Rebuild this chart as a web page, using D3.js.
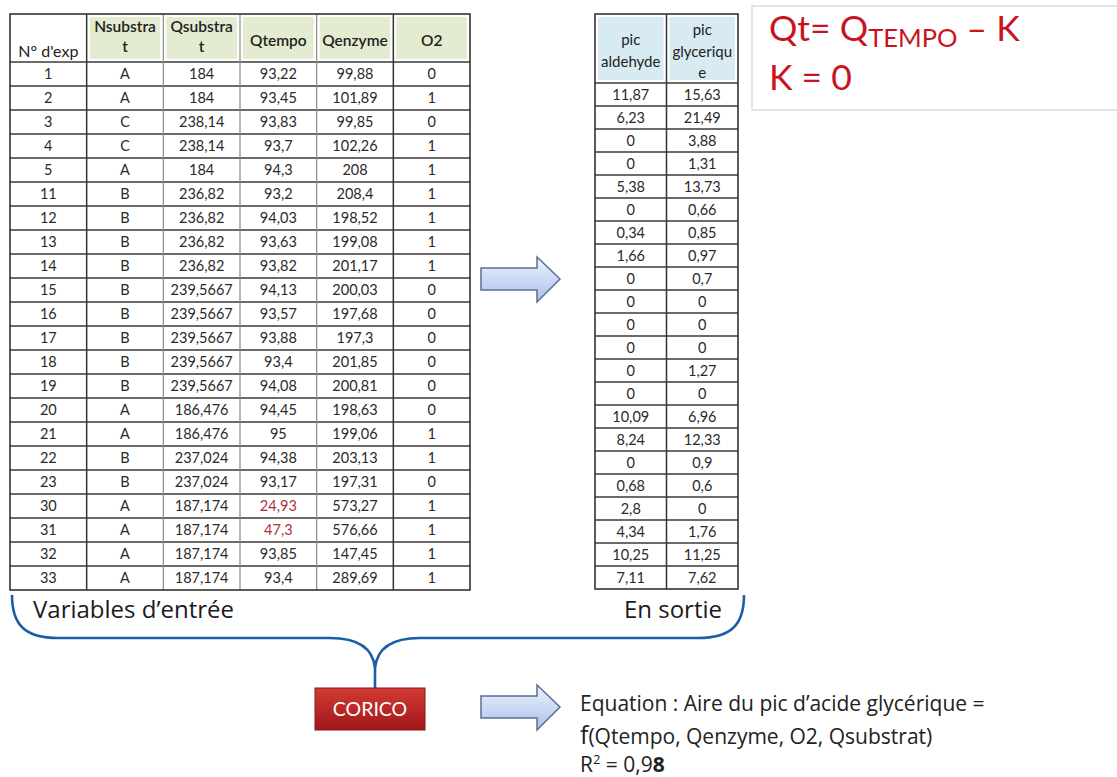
<!DOCTYPE html>
<html><head><meta charset="utf-8">
<script src="https://cdn.jsdelivr.net/npm/d3@7"></script>
<style>body{margin:0;background:#fff}svg{display:block}</style>
</head><body>
<svg id="c" width="1117" height="777"></svg>
<script>
// ---- data ----
const expNums = [1,2,3,4,5,11,12,13,14,15,16,17,18,19,20,21,22,23,30,31,32,33];
const nsubstrat = ["A","A","C","C","A","B","B","B","B","B","B","B","B","B","A","A","B","B","A","A","A","A"];
const qsubstrat = [184,184,238.14,238.14,184,236.82,236.82,236.82,236.82,239.5667,239.5667,239.5667,239.5667,239.5667,186.476,186.476,237.024,237.024,187.174,187.174,187.174,187.174];
const qtempo = [93.22,93.45,93.83,93.7,94.3,93.2,94.03,93.63,93.82,94.13,93.57,93.88,93.4,94.08,94.45,95,94.38,93.17,24.93,47.3,93.85,93.4];
const qenzyme = [99.88,101.89,99.85,102.26,208,208.4,198.52,199.08,201.17,200.03,197.68,197.3,201.85,200.81,198.63,199.06,203.13,197.31,573.27,576.66,147.45,289.69];
const o2 = [0,1,0,1,1,1,1,1,1,0,0,0,0,0,0,1,1,0,1,1,1,1];
const picAldehyde = [11.87,6.23,0,0,5.38,0,0.34,1.66,0,0,0,0,0,0,10.09,8.24,0,0.68,2.8,4.34,10.25,7.11];
const picGlycerique = [15.63,21.49,3.88,1.31,13.73,0.66,0.85,0.97,0.7,0,0,0,1.27,0,6.96,12.33,0.9,0.6,0,1.76,11.25,7.62];
const inputHeaders = [["N° d'exp"],["Nsubstra","t"],["Qsubstra","t"],["Qtempo"],["Qenzyme"],["O2"]];
const outputHeaders = [["pic","aldehyde"],["pic","glyceriqu","e"]];
const outlierExps = [30,31];

const fmt = v => String(v).replace('.', ',');
const svg = d3.select('#c');
const FONT = "Lato, 'Open Sans', sans-serif";
const FONT2 = "'Open Sans', Lato, sans-serif";

// gradients
const defs = svg.append('defs');
const ag = defs.append('linearGradient').attr('id','arrowG').attr('x1',0).attr('y1',0).attr('x2',0).attr('y2',1);
ag.append('stop').attr('offset','0%').attr('stop-color','#eef3fc');
ag.append('stop').attr('offset','100%').attr('stop-color','#a8c0ec');
const rg = defs.append('linearGradient').attr('id','redG').attr('x1',0).attr('y1',0).attr('x2',0).attr('y2',1);
rg.append('stop').attr('offset','0%').attr('stop-color','#d23a33');
rg.append('stop').attr('offset','100%').attr('stop-color','#a3161a');

// ---- input table ----
const colKeys = d3.range(6);
const xIn = d3.scaleBand().domain(colKeys).range([10,470]);
const yIn = d3.scaleBand().domain(expNums).range([62,590]);
const inTop = 14;
const rowsIn = expNums.map((e,i)=>[e, nsubstrat[i], fmt(qsubstrat[i]), fmt(qtempo[i]), fmt(qenzyme[i]), o2[i]]);

const gIn = svg.append('g');
gIn.selectAll('rect.hf').data(colKeys.slice(1)).join('rect')
  .attr('x',d=>xIn(d)+3).attr('y',inTop+3).attr('width',xIn.bandwidth()-6).attr('height',62-inTop-6)
  .attr('fill','#e3ecd0');
inputHeaders.forEach((lines,ci)=>{
  const cx = xIn(ci)+xIn.bandwidth()/2;
  let ys;
  if (ci===0) ys=[57];
  else if (lines.length===2) ys=[32,52];
  else ys=[46];
  lines.forEach((t,li)=>{
    gIn.append('text').attr('x',cx).attr('y',ys[li]).attr('text-anchor','middle')
      .attr('font-family',FONT).attr('font-size', ci===0?16:15.5).attr('font-weight', ci===0?400:600)
      .attr('fill','#222').text(t);
  });
});
rowsIn.forEach((r,ri)=>{
  const e = expNums[ri];
  r.forEach((v,ci)=>{
    gIn.append('text').attr('x',xIn(ci)+xIn.bandwidth()/2).attr('y',yIn(e)+yIn.bandwidth()/2+5)
      .attr('text-anchor','middle').attr('font-family',FONT).attr('font-size',14.5)
      .attr('fill', (ci===3 && outlierExps.includes(e)) ? '#b0303a' : '#2a2a2a').text(v);
  });
});
gIn.selectAll('line.h').data(expNums).join('line')
  .attr('x1',10).attr('x2',470).attr('y1',d=>yIn(d)).attr('y2',d=>yIn(d))
  .attr('stroke','#3a3a3a').attr('stroke-width',1.4);
colKeys.slice(1).forEach(ci=>{
  const major = (ci===1||ci===5);
  gIn.append('line').attr('x1',xIn(ci)).attr('x2',xIn(ci)).attr('y1',inTop).attr('y2',590)
    .attr('stroke',major?'#333':'#8a8a8a').attr('stroke-width',major?1.5:1.2);
});
gIn.append('rect').attr('x',10).attr('y',inTop).attr('width',460).attr('height',590-inTop)
  .attr('fill','none').attr('stroke','#333').attr('stroke-width',1.6);

// ---- output table ----
const outKeys = [0,1];
const xOut = d3.scaleBand().domain(outKeys).range([595,738]);
const yOut = d3.scaleBand().domain(expNums).range([83,589]);
const outTop = 14;
const gOut = svg.append('g');
gOut.selectAll('rect.hf').data(outKeys).join('rect')
  .attr('x',d=>xOut(d)+3).attr('y',outTop+3).attr('width',xOut.bandwidth()-6).attr('height',83-outTop-6)
  .attr('fill','#d8eaf2');
outputHeaders.forEach((lines,ci)=>{
  const cx = xOut(ci)+xOut.bandwidth()/2;
  const ys = lines.length===2 ? [45,67] : [35,57,78];
  lines.forEach((t,li)=>{
    gOut.append('text').attr('x',cx).attr('y',ys[li]).attr('text-anchor','middle')
      .attr('font-family',FONT).attr('font-size',15).attr('fill','#222').text(t);
  });
});
expNums.forEach((e,ri)=>{
  [picAldehyde[ri], picGlycerique[ri]].forEach((v,ci)=>{
    gOut.append('text').attr('x',xOut(ci)+xOut.bandwidth()/2).attr('y',yOut(e)+yOut.bandwidth()/2+5)
      .attr('text-anchor','middle').attr('font-family',FONT).attr('font-size',14.5)
      .attr('fill','#2a2a2a').text(fmt(v));
  });
});
gOut.selectAll('line.h').data(expNums).join('line')
  .attr('x1',595).attr('x2',738).attr('y1',d=>yOut(d)).attr('y2',d=>yOut(d))
  .attr('stroke','#3a3a3a').attr('stroke-width',1.4);
gOut.append('line').attr('x1',xOut(1)).attr('x2',xOut(1)).attr('y1',outTop).attr('y2',589)
  .attr('stroke','#333').attr('stroke-width',1.5);
gOut.append('rect').attr('x',595).attr('y',outTop).attr('width',143).attr('height',589-outTop)
  .attr('fill','none').attr('stroke','#333').attr('stroke-width',1.6);

// ---- formula box ----
svg.append('rect').attr('x',752).attr('y',6).attr('width',380).attr('height',104)
  .attr('fill','#fff').attr('stroke','#d4d4d4').attr('stroke-width',1.2);
const t1 = svg.append('text').attr('x',769).attr('y',41).attr('font-family',FONT).attr('font-size',35.5).attr('fill','#c8141e');
t1.append('tspan').text('Qt= Q');
t1.append('tspan').attr('font-size',25.5).attr('dy',6).text('TEMPO');
t1.append('tspan').attr('dy',-6).text(' – K');
svg.append('text').attr('x',769).attr('y',90).attr('font-family',FONT).attr('font-size',35.5).attr('fill','#c8141e').text('K = 0');

// ---- arrows ----
function arrow(x0, cy){
  const p = d3.path();
  p.moveTo(x0, cy-11); p.lineTo(x0+56, cy-11); p.lineTo(x0+56, cy-22);
  p.lineTo(x0+79, cy); p.lineTo(x0+56, cy+23); p.lineTo(x0+56, cy+11);
  p.lineTo(x0, cy+11); p.closePath();
  svg.append('path').attr('d',p.toString()).attr('fill','url(#arrowG)')
    .attr('stroke','#5b6e98').attr('stroke-width',1.5);
}
arrow(481, 279);
arrow(481, 707);

// ---- brace ----
const bp = d3.path();
bp.moveTo(12,595); bp.bezierCurveTo(12,625,25,638,58,638); bp.lineTo(330,638);
bp.bezierCurveTo(358,638,373,648,375,668); bp.lineTo(375,688);
bp.moveTo(744,595); bp.bezierCurveTo(744,625,731,638,698,638); bp.lineTo(420,638);
bp.bezierCurveTo(392,638,377,648,375,668);
svg.append('path').attr('d',bp.toString()).attr('fill','none').attr('stroke','#1c5fa8').attr('stroke-width',2.6);

svg.append('text').attr('x',33).attr('y',618).attr('font-family',FONT2).attr('font-size',24).attr('fill','#1a1a1a').text('Variables d’entrée');
svg.append('text').attr('x',722).attr('y',618).attr('text-anchor','end').attr('font-family',FONT2).attr('font-size',24).attr('fill','#1a1a1a').text('En sortie');

// ---- CORICO ----
svg.append('rect').attr('x',315).attr('y',688).attr('width',110).attr('height',42)
  .attr('fill','url(#redG)').attr('stroke','#8a1515').attr('stroke-width',1);
svg.append('text').attr('x',370).attr('y',716).attr('text-anchor','middle').attr('font-family',FONT)
  .attr('font-size',19.5).attr('fill','#fff').text('CORICO');

// ---- equation ----
const eq = svg.append('g').attr('font-family',FONT2).attr('font-size',21).attr('fill','#222');
eq.append('text').attr('x',580).attr('y',711).text('Equation : Aire du pic d’acide glycérique =');
const l2 = eq.append('text').attr('x',580).attr('y',744);
l2.append('tspan').attr('font-size',25).text('f');
l2.append('tspan').text('(Qtempo, Qenzyme, O2, Qsubstrat)');
const l3 = eq.append('text').attr('x',580).attr('y',772);
l3.append('tspan').text('R');
l3.append('tspan').attr('font-size',13).attr('dy',-8).text('2');
l3.append('tspan').attr('dy',8).text(' = 0,9');
l3.append('tspan').attr('font-weight',700).text('8');
</script>
</body></html>
